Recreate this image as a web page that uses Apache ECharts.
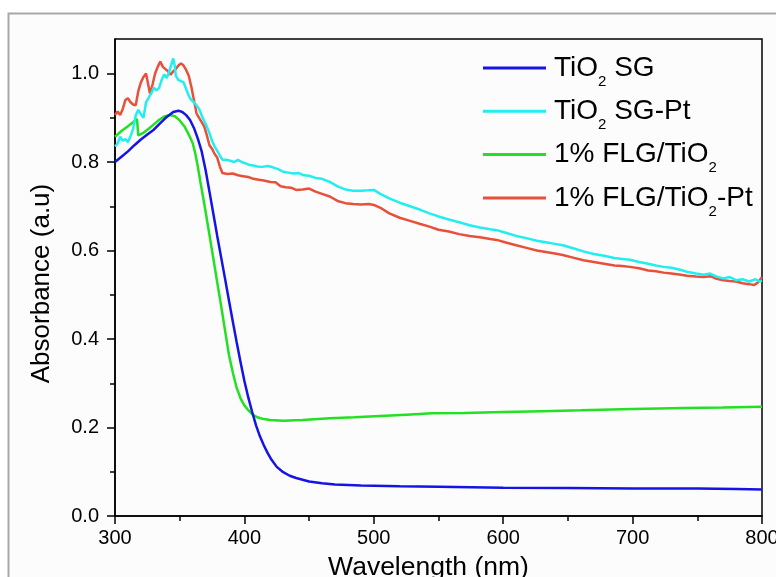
<!DOCTYPE html>
<html>
<head>
<meta charset="utf-8">
<script src="https://cdn.jsdelivr.net/npm/echarts@6/dist/echarts.min.js"></script>
<style>
html,body{margin:0;padding:0;background:#ffffff;}
#chart{width:776px;height:577px;}
</style>
</head>
<body>
<div id="chart"></div>
<script>
// ---- Data ----
const seriesNames = ['TiO2 SG', 'TiO2 SG-Pt', '1% FLG/TiO2', '1% FLG/TiO2-Pt'];

const xTicks = [300, 400, 500, 600, 700, 800];
const yTickLabels = [0.0, 0.2, 0.4, 0.6, 0.8, 1.0];
const yMinorTicks = [0.1, 0.3, 0.5, 0.7, 0.9];

// TiO2 SG
const sgX = [300,305,310,315,320,325,330,335,340,345,349,352,355,358,361,364,367,370,373,376,379,382,385,388,391,394,397,400,403,406,409,412,415,418,421,425,430,435,440,450,460,470,490,520,550,600,650,700,750,780,800];
const sgY = [0.800,0.812,0.824,0.838,0.851,0.862,0.873,0.888,0.902,0.913,0.916,0.913,0.906,0.895,0.877,0.853,0.824,0.782,0.733,0.683,0.633,0.585,0.537,0.488,0.440,0.393,0.348,0.305,0.268,0.235,0.205,0.180,0.160,0.142,0.127,0.111,0.099,0.091,0.086,0.078,0.074,0.071,0.069,0.067,0.066,0.064,0.063,0.062,0.062,0.061,0.060];

// TiO2 SG-Pt
const sgPtX = [300,302,304,306,308,310,312,314,316,318,320,322,324,326,328,330,332,334,336,338,340,342,344,345,346,347,349,351,353,355,357,359,361,363,365,367,369,371,373,375,377,379,381,383,386,389,392,395,398,401,404,407,410,414,418,422,426,430,434,438,442,446,450,455,460,466,472,478,484,490,496,500,505,512,520,528,536,543,550,558,566,574,582,590,595,602,610,618,626,634,640,646,654,662,670,678,686,692,698,705,712,718,724,730,736,742,749,755,760,765,770,775,780,785,790,795,798,800];
const sgPtY = [0.835,0.842,0.857,0.848,0.852,0.845,0.858,0.875,0.905,0.918,0.908,0.900,0.935,0.945,0.955,0.968,0.962,0.967,0.985,0.998,0.990,1.005,1.025,1.034,1.020,0.995,0.985,0.983,0.980,0.965,0.950,0.940,0.935,0.928,0.920,0.905,0.892,0.880,0.865,0.848,0.835,0.825,0.815,0.805,0.805,0.803,0.800,0.805,0.800,0.797,0.793,0.792,0.790,0.789,0.791,0.788,0.784,0.778,0.776,0.774,0.775,0.770,0.769,0.764,0.762,0.755,0.745,0.738,0.735,0.735,0.736,0.737,0.728,0.718,0.708,0.700,0.692,0.684,0.677,0.670,0.664,0.657,0.652,0.648,0.646,0.640,0.633,0.628,0.622,0.618,0.615,0.612,0.605,0.598,0.592,0.588,0.583,0.581,0.579,0.574,0.570,0.566,0.563,0.561,0.557,0.552,0.548,0.545,0.548,0.541,0.537,0.540,0.533,0.535,0.530,0.535,0.530,0.532];

// 1% FLG/TiO2
const flgX = [300,305,310,314,317,318,322,326,330,334,338,342,346,350,354,357,360,362,364,366,368,370,373,376,379,382,385,388,391,394,397,400,403,406,410,415,420,430,445,466,485,505,525,545,570,600,630,660,700,740,770,800];
const flgY = [0.857,0.870,0.881,0.890,0.897,0.860,0.866,0.875,0.885,0.895,0.903,0.906,0.904,0.894,0.879,0.862,0.843,0.820,0.790,0.755,0.722,0.688,0.635,0.582,0.528,0.475,0.420,0.365,0.325,0.290,0.266,0.250,0.239,0.230,0.223,0.219,0.217,0.215,0.217,0.221,0.223,0.226,0.229,0.232,0.233,0.235,0.237,0.239,0.242,0.244,0.245,0.247];

// 1% FLG/TiO2-Pt
const flgPtX = [300,302,304,306,308,310,312,314,316,318,320,322,324,326,327,329,331,333,335,337,339,341,343,345,347,349,351,353,355,357,359,361,363,365,367,369,371,373,375,377,379,381,383,387,391,395,399,403,407,411,415,420,424,428,432,436,440,445,450,455,460,466,472,478,484,490,496,500,506,512,520,528,536,543,550,558,566,574,582,590,595,602,610,618,626,634,640,646,654,662,670,678,686,692,698,705,712,718,724,730,736,742,749,755,760,765,770,775,780,785,790,794,797,800];
const flgPtY = [0.906,0.914,0.906,0.920,0.940,0.944,0.935,0.930,0.928,0.960,0.980,0.992,1.000,0.970,0.955,0.975,1.000,1.015,1.027,1.015,1.010,1.005,0.997,1.005,1.010,1.018,1.023,1.018,1.008,0.995,0.970,0.940,0.910,0.900,0.890,0.880,0.860,0.838,0.830,0.818,0.810,0.790,0.775,0.773,0.774,0.770,0.768,0.766,0.762,0.760,0.758,0.755,0.754,0.745,0.743,0.742,0.737,0.738,0.740,0.733,0.728,0.722,0.712,0.707,0.705,0.704,0.705,0.703,0.695,0.684,0.674,0.667,0.660,0.654,0.647,0.643,0.637,0.633,0.630,0.626,0.624,0.618,0.612,0.606,0.600,0.596,0.593,0.590,0.584,0.578,0.574,0.570,0.566,0.565,0.563,0.560,0.555,0.553,0.550,0.548,0.546,0.543,0.541,0.540,0.542,0.536,0.533,0.531,0.530,0.526,0.524,0.522,0.528,0.540];

const colors = ['#1414e6', '#22eef0', '#22e022', '#e8503a'];

function pairs(xs, ys) { return xs.map((x, i) => [x, ys[i]]); }

const chart = echarts.init(document.getElementById('chart'), null, {renderer: 'canvas'});
const FONT = '"Liberation Sans", Arial, sans-serif';

const option = {
  animation: false,
  backgroundColor: '#ffffff',
  graphic: [{
    type: 'rect', z: -10, silent: true,
    shape: {x: 8.5, y: 13.5, width: 800, height: 600},
    style: {fill: '#fcfcfc', stroke: '#a8a8a8', lineWidth: 2}
  }],
  grid: {
    left: 115, right: 14, top: 39, bottom: 61,
    outerBoundsMode: 'none', containLabel: false,
    show: true, borderColor: '#000', borderWidth: 1.5, backgroundColor: 'transparent'
  },
  legend: {
    left: 483, top: 47, orient: 'vertical', padding: 0,
    icon: 'rect', itemWidth: 63, itemHeight: 3, itemGap: 1.3,
    data: seriesNames,
    formatter: function (name) { return name.replace('TiO2', 'TiO{s|2}'); },
    textStyle: {
      fontFamily: FONT, fontSize: 28, color: '#000', lineHeight: 42,
      padding: [0, 0, 0, 3],
      rich: { s: { fontFamily: FONT, fontSize: 15, lineHeight: 10, verticalAlign: 'bottom', color: '#000' } }
    }
  },
  xAxis: {
    type: 'value', min: 300, max: 800, interval: 100,
    name: 'Wavelength (nm)', nameLocation: 'middle', nameGap: 38,
    nameTextStyle: {fontFamily: FONT, fontSize: 26.5, color: '#000', padding: [0, 20, 0, 0]},
    axisLine: {show: true, lineStyle: {color: '#000', width: 1.5}},
    axisTick: {show: true, inside: false, length: 8, lineStyle: {color: '#000', width: 1.5}},
    minorTick: {show: true, splitNumber: 2, length: 5, lineStyle: {color: '#000', width: 1.5}},
    axisLabel: {fontFamily: FONT, fontSize: 20, color: '#000', margin: 12,
      customValues: xTicks},
    splitLine: {show: false}
  },
  yAxis: [{
    type: 'value', min: 0, max: 1.078,
    name: 'Absorbance (a.u)', nameLocation: 'middle', nameGap: 60,
    nameTextStyle: {fontFamily: FONT, fontSize: 26, color: '#000', padding: [0, 12, 0, 0]},
    axisLine: {show: true, lineStyle: {color: '#000', width: 1.5}},
    axisTick: {show: true, inside: false, length: 8, lineStyle: {color: '#000', width: 1.5},
      customValues: yTickLabels},
    axisLabel: {fontFamily: FONT, fontSize: 20, color: '#000', margin: 16,
      customValues: yTickLabels,
      formatter: function (v) { return v.toFixed(1); }},
    splitLine: {show: false}
  }, {
    type: 'value', min: 0, max: 1.078, position: 'left', offset: 0,
    axisLine: {show: false},
    axisTick: {show: true, inside: false, length: 5, lineStyle: {color: '#000', width: 1.5},
      customValues: yMinorTicks},
    axisLabel: {show: false, customValues: yMinorTicks},
    splitLine: {show: false}
  }],
  series: [
    {name: seriesNames[0], data: pairs(sgX, sgY)},
    {name: seriesNames[1], data: pairs(sgPtX, sgPtY)},
    {name: seriesNames[2], data: pairs(flgX, flgY)},
    {name: seriesNames[3], data: pairs(flgPtX, flgPtY)}
  ].map((s, i) => Object.assign(s, {
    type: 'line', symbol: 'none', showSymbol: false, smooth: false, z: 10 - i,
    lineStyle: {color: colors[i], width: 2.5},
    itemStyle: {color: colors[i]}
  }))
};
chart.setOption(option);
</script>
</body>
</html>
